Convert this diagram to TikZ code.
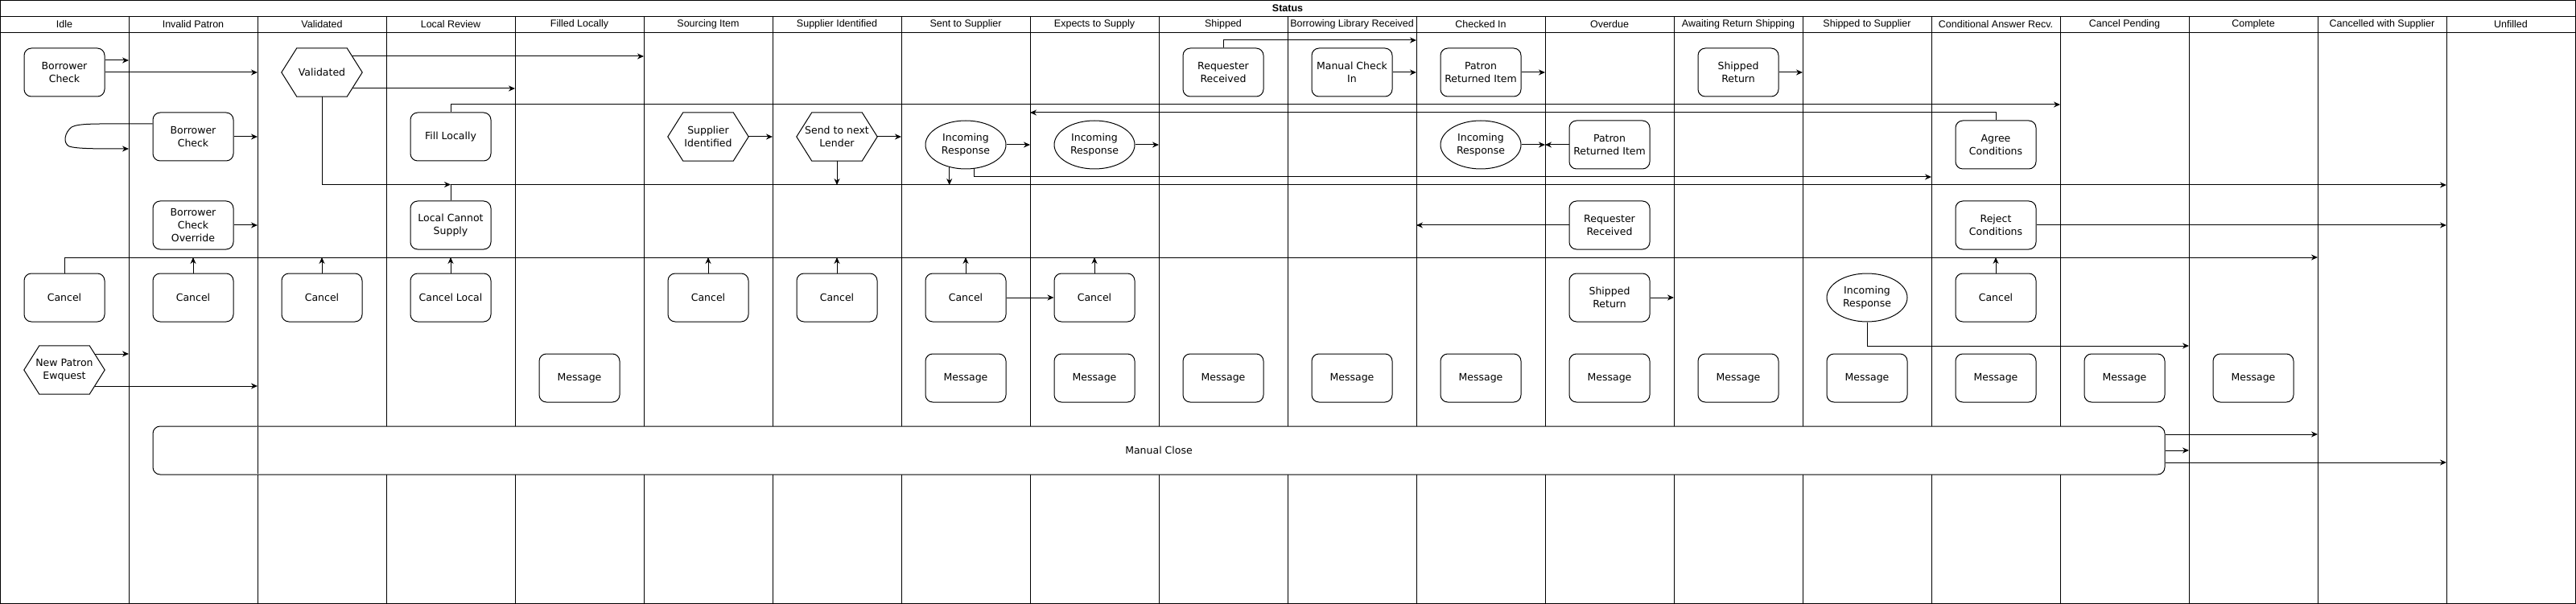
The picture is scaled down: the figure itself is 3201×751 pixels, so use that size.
\documentclass[tikz,border=0pt]{standalone}
\usepackage{fontspec}
\setmainfont{DejaVu Sans}
\newfontfamily\hdrfont{Liberation Sans}
\usetikzlibrary{arrows.meta,shapes.geometric,calc}
\tikzset{
  nodetext/.style={font=\fontsize{12.5}{15.7}\selectfont},
  box/.style={draw, line width=1pt, rounded corners=9pt, minimum width=100pt, minimum height=60pt, inner sep=0pt, align=center, fill=white, nodetext},
  ell/.style={draw, line width=1pt, ellipse, minimum width=100pt, minimum height=60pt, inner sep=0pt, align=center, fill=white, nodetext},
  hexn/.style={minimum width=100pt, minimum height=60pt, inner sep=0pt, align=center, nodetext},
  conn/.style={draw, line width=1pt, -{Stealth[length=8pt,width=7pt]}},
  lane/.style={line width=1pt},
  hdr/.style={font=\hdrfont\fontsize{12.5}{15}\selectfont},
  ttl/.style={font=\hdrfont\bfseries\fontsize{12.5}{15}\selectfont},
}
\newcommand\hexoutline[1]{\draw[line width=1pt] (#1.west) -- ([xshift=19pt]#1.north west) -- ([xshift=-19pt]#1.north east) -- (#1.east) -- ([xshift=-19pt]#1.south east) -- ([xshift=19pt]#1.south west) -- cycle;}
\begin{document}
\begin{tikzpicture}[x=1pt,y=-1pt]
\useasboundingbox (0,0) rectangle (3201,751);
% frame and lanes
\draw[lane] (0.5,0.5) rectangle (3200.5,750.5);
\draw[lane] (0.5,20.5) -- (3200.5,20.5);
\draw[lane] (0.5,40.5) -- (3200.5,40.5);
\foreach \i in {1,...,19} {
  \draw[lane] (160*\i,20.5) -- (160*\i,750.5);
  \coordinate (x\i) at (160*\i,0);
}
\node[ttl] (title) at (1600,10.5) {Status};
\foreach \i/\t in {0/Idle,1/Invalid Patron,2/Validated,3/Local Review,4/Filled Locally,5/Sourcing Item,6/Supplier Identified,7/Sent to Supplier,8/Expects to Supply,9/Shipped,10/Borrowing Library Received,11/Checked In,12/Overdue,13/Awaiting Return Shipping,14/Shipped to Supplier,15/Conditional Answer Recv.,16/Cancel Pending,17/Complete,18/Cancelled with Supplier,19/Unfilled}
  \node[hdr] (h\i) at (160*\i+80,30.5) {\t};
% level coordinates
\coordinate (y50) at (0,50);
\coordinate (y130) at (0,130);
\coordinate (y140) at (0,140);
\coordinate (y220) at (0,220);
\coordinate (y230) at (0,230);
\coordinate (y320) at (0,320);
\coordinate (y430) at (0,430);
\coordinate (loopend) at (160,185);
% Manual close (behind lane x=320)
\node[box, minimum width=2500pt] (mc) at (1440,560) {Manual Close};
\draw[lane] (320,531) -- (320,589);
% Idle
\node[box] (bcI) at (80,90) {Borrower\\Check};
\node[box] (cn0) at (80,370) {Cancel};
\node[hexn] (npe) at (80,460) {New Patron\\Ewquest}; \hexoutline{npe}
% Invalid Patron
\node[box] (bcP) at (240,170) {Borrower\\Check};
\node[box] (bco) at (240,280) {Borrower\\Check\\Override};
\node[box] (cn1) at (240,370) {Cancel};
% Validated
\node[hexn] (val) at (400,90) {Validated}; \hexoutline{val}
\node[box] (cn2) at (400,370) {Cancel};
% Local Review
\node[box] (fill) at (560,170) {Fill Locally};
\node[box] (lcs) at (560,280) {Local Cannot\\Supply};
\node[box] (cn3) at (560,370) {Cancel Local};
% Filled Locally
\node[box] (ms4) at (720,470) {Message};
% Sourcing Item
\node[hexn] (si) at (880,170) {Supplier\\Identified}; \hexoutline{si}
\node[box] (cn5) at (880,370) {Cancel};
% Supplier Identified
\node[hexn] (snl) at (1040,170) {Send to next\\Lender}; \hexoutline{snl}
\node[box] (cn6) at (1040,370) {Cancel};
% Sent to Supplier
\node[ell] (ir7) at (1200,180) {Incoming\\Response};
\node[box] (cn7) at (1200,370) {Cancel};
\node[box] (ms7) at (1200,470) {Message};
% Expects to Supply
\node[ell] (ir8) at (1360,180) {Incoming\\Response};
\node[box] (cn8) at (1360,370) {Cancel};
\node[box] (ms8) at (1360,470) {Message};
% Shipped
\node[box] (rr9) at (1520,90) {Requester\\Received};
\node[box] (ms9) at (1520,470) {Message};
% Borrowing Library Received
\node[box] (mci) at (1680,90) {Manual Check\\In};
\node[box] (ms10) at (1680,470) {Message};
% Checked In
\node[box] (pri11) at (1840,90) {Patron\\Returned Item};
\node[ell] (ir11) at (1840,180) {Incoming\\Response};
\node[box] (ms11) at (1840,470) {Message};
% Overdue
\node[box] (pri12) at (2000,180) {Patron\\Returned Item};
\node[box] (rr12) at (2000,280) {Requester\\Received};
\node[box] (sr12) at (2000,370) {Shipped\\Return};
\node[box] (ms12) at (2000,470) {Message};
% Awaiting Return Shipping
\node[box] (sr13) at (2160,90) {Shipped\\Return};
\node[box] (ms13) at (2160,470) {Message};
% Shipped to Supplier
\node[ell] (ir14) at (2320,370) {Incoming\\Response};
\node[box] (ms14) at (2320,470) {Message};
% Conditional Answer Recv.
\node[box] (agree) at (2480,180) {Agree\\Conditions};
\node[box] (reject) at (2480,280) {Reject\\Conditions};
\node[box] (cn15) at (2480,370) {Cancel};
\node[box] (ms15) at (2480,470) {Message};
% Cancel Pending, Complete
\node[box] (ms16) at (2640,470) {Message};
\node[box] (ms17) at (2800,470) {Message};
% connector start points on hexagon edges
\coordinate (valA) at ([xshift=-12.7pt,yshift=20pt]val.east);
\coordinate (valB) at ([xshift=-12.7pt,yshift=-20pt]val.east);
\coordinate (npeA) at ([xshift=-12.7pt,yshift=20pt]npe.east);
\coordinate (npeB) at ([xshift=-12.7pt,yshift=-20pt]npe.east);
\coordinate (bcIA) at ([yshift=15pt]bcI.east);
\coordinate (mcA) at ([yshift=20pt]mc.east);
\coordinate (mcB) at ([yshift=-15pt]mc.east);
% connectors
\draw[conn] (bcIA) -- (bcIA -| x1);
\draw[conn] (bcI.east) -- (bcI.east -| x2);
\draw[conn] ([yshift=16pt]bcP.west) .. controls (120,154) and (98,153) .. (89,158) .. controls (80,165) and (78,178) .. (86,182) .. controls (95,185) and (120,185) .. (loopend);
\draw[conn] (bcP.east) -- (bcP.east -| x2);
\draw[conn] (bco.east) -- (bco.east -| x2);
\draw[conn] (valA) -- (valA -| x5);
\draw[conn] (valB) -- (valB -| x4);
\draw[conn] (val.south) |- ([yshift=20pt]lcs.north);
\draw[conn] (fill.north) |- (x16 |- y130);
\draw[conn] (lcs.north) |- (x19 |- y230);
\draw[conn] (cn0.north) |- (x18 |- y320);
\foreach \n in {cn1,cn2,cn3,cn5,cn6,cn7,cn8,cn15}
  \draw[conn] (\n.north) -- (\n.north |- y320);
\draw[conn] (cn7.east) -- (cn8.west);
\draw[conn] (npeA) -- (npeA -| x1);
\draw[conn] (npeB) -- (npeB -| x2);
\draw[conn] (si.east) -- (si.east -| x6);
\draw[conn] (snl.east) -- (snl.east -| x7);
\draw[conn] (snl.south) -- (snl.south |- y230);
\draw[conn] (ir7.east) -- (ir7.east -| x8);
\draw[conn] (ir7.234) -- (ir7.234 |- y230);
\draw[conn] (ir7.290) |- (x15 |- y220);
\draw[conn] (ir8.east) -- (ir8.east -| x9);
\draw[conn] (rr9.north) |- (x11 |- y50);
\draw[conn] (mci.east) -- (mci.east -| x11);
\draw[conn] (pri11.east) -- (pri11.east -| x12);
\draw[conn] (ir11.east) -- (ir11.east -| x12);
\draw[conn] (pri12.west) -- (pri12.west -| x12);
\draw[conn] (rr12.west) -- (rr12.west -| x11);
\draw[conn] (sr12.east) -- (sr12.east -| x13);
\draw[conn] (sr13.east) -- (sr13.east -| x14);
\draw[conn] (ir14.south) |- (x17 |- y430);
\draw[conn] (agree.north) |- (x8 |- y140);
\draw[conn] (reject.east) -- (reject.east -| x19);
\draw[conn] (mcA) -- (mcA -| x18);
\draw[conn] (mc.east) -- (mc.east -| x17);
\draw[conn] (mcB) -- (mcB -| x19);
\end{tikzpicture}
\end{document}
